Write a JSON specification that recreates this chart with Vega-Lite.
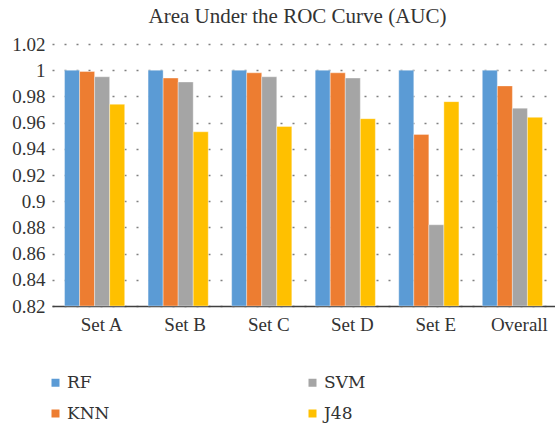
{
  "$schema": "https://vega.github.io/schema/vega-lite/v6.json",
  "width": 503,
  "height": 262,
  "autosize": {"type": "none"},
  "padding": {"left": 52, "top": 44, "right": 0, "bottom": 117},
  "background": "white",
  "title": {
    "text": "Area Under the ROC Curve (AUC)",
    "font": "Liberation Serif",
    "fontSize": 21,
    "fontWeight": "normal",
    "color": "#333333",
    "anchor": "middle",
    "dx": -6,
    "offset": 8
  },
  "config": {
    "view": {"stroke": null},
    "font": "Liberation Serif"
  },
  "data": {
    "values": [
      {"group": "Set A", "model": "RF", "auc": 1.0},
      {"group": "Set A", "model": "KNN", "auc": 0.999},
      {"group": "Set A", "model": "SVM", "auc": 0.995},
      {"group": "Set A", "model": "J48", "auc": 0.974},
      {"group": "Set B", "model": "RF", "auc": 1.0},
      {"group": "Set B", "model": "KNN", "auc": 0.994},
      {"group": "Set B", "model": "SVM", "auc": 0.991},
      {"group": "Set B", "model": "J48", "auc": 0.953},
      {"group": "Set C", "model": "RF", "auc": 1.0},
      {"group": "Set C", "model": "KNN", "auc": 0.998},
      {"group": "Set C", "model": "SVM", "auc": 0.995},
      {"group": "Set C", "model": "J48", "auc": 0.957},
      {"group": "Set D", "model": "RF", "auc": 1.0},
      {"group": "Set D", "model": "KNN", "auc": 0.998},
      {"group": "Set D", "model": "SVM", "auc": 0.994},
      {"group": "Set D", "model": "J48", "auc": 0.963},
      {"group": "Set E", "model": "RF", "auc": 1.0},
      {"group": "Set E", "model": "KNN", "auc": 0.951},
      {"group": "Set E", "model": "SVM", "auc": 0.882},
      {"group": "Set E", "model": "J48", "auc": 0.976},
      {"group": "Overall", "model": "RF", "auc": 1.0},
      {"group": "Overall", "model": "KNN", "auc": 0.988},
      {"group": "Overall", "model": "SVM", "auc": 0.971},
      {"group": "Overall", "model": "J48", "auc": 0.964}
    ]
  },
  "mark": {"type": "bar", "stroke": "white", "strokeWidth": 0.6, "strokeOpacity": 0.6},
  "encoding": {
    "x": {
      "field": "group",
      "type": "nominal",
      "sort": ["Set A", "Set B", "Set C", "Set D", "Set E", "Overall"],
      "scale": {"paddingInner": 0.28, "paddingOuter": 0.15},
      "axis": {
        "title": null,
        "labelAngle": 0,
        "labelFont": "Liberation Serif",
        "labelFontSize": 19,
        "labelColor": "#333333",
        "labelPadding": 9,
        "labelOffset": 7,
        "ticks": false,
        "domainColor": "#404040",
        "domainWidth": 1.5,
        "grid": false
      }
    },
    "xOffset": {
      "field": "model",
      "type": "nominal",
      "sort": ["RF", "KNN", "SVM", "J48"],
      "scale": {"paddingInner": 0, "paddingOuter": 0}
    },
    "y": {
      "field": "auc",
      "type": "quantitative",
      "scale": {"domain": [0.82, 1.02], "zero": false, "nice": false},
      "axis": {
        "title": null,
        "values": [0.82, 0.84, 0.86, 0.88, 0.9, 0.92, 0.94, 0.96, 0.98, 1.0, 1.02],
        "format": "~g",
        "labelFont": "Liberation Serif",
        "labelFontSize": 19,
        "labelColor": "#333333",
        "labelPadding": 7,
        "ticks": false,
        "domain": false,
        "grid": true,
        "gridDash": [2, 10],
        "gridColor": "#808080",
        "gridWidth": 1.3
      }
    },
    "y2": {"datum": 0.82},
    "color": {
      "field": "model",
      "type": "nominal",
      "scale": {
        "domain": ["RF", "KNN", "SVM", "J48"],
        "range": ["#5B9BD5", "#ED7D31", "#A5A5A5", "#FFC000"]
      },
      "legend": {
        "title": null,
        "orient": "none",
        "legendX": -5,
        "legendY": 330,
        "columns": 2,
        "symbolType": "square",
        "symbolSize": 64,
        "symbolStrokeWidth": 0,
        "labelFont": "DejaVu Serif",
        "labelFontSize": 17,
        "labelColor": "#333333",
        "labelOffset": 3,
        "rowPadding": 13,
        "columnPadding": 194
      }
    }
  }
}
